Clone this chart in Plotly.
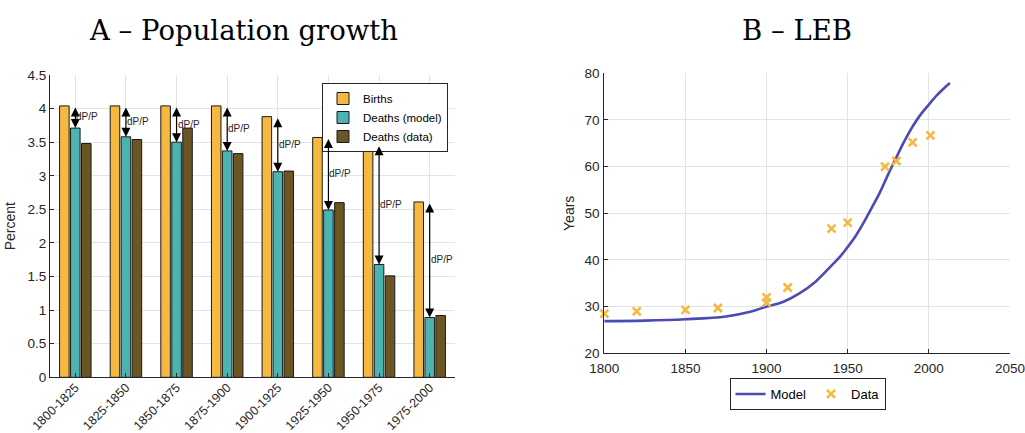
import plotly.graph_objects as go

# Panel A: birth and death rates per 25-year period (percent per year)
periods = ["1800-1825", "1825-1850", "1850-1875", "1875-1900",
           "1900-1925", "1925-1950", "1950-1975", "1975-2000"]
births = [4.04, 4.04, 4.04, 4.04, 3.88, 3.57, 3.46, 2.61]
deaths_model = [3.71, 3.58, 3.50, 3.37, 3.06, 2.49, 1.68, 0.89]
deaths_data = [3.48, 3.54, 3.71, 3.33, 3.07, 2.60, 1.51, 0.92]
pct_ticks = [0, 0.5, 1, 1.5, 2, 2.5, 3, 3.5, 4, 4.5]

# Panel B: life expectancy at birth (years)
model_years = [1800, 1825, 1850, 1875, 1890, 1900, 1910, 1920, 1930, 1940,
               1945, 1950, 1955, 1960, 1965, 1970, 1975, 1980, 1985, 1990,
               1995, 2000, 2005, 2010, 2013]
model_leb = [26.9, 27.0, 27.3, 27.9, 28.9, 30.0, 31.0, 32.8, 35.3, 38.8,
             40.6, 42.8, 45.2, 48.1, 51.3, 54.6, 58.4, 62.0, 65.5, 68.6,
             71.2, 73.3, 75.3, 77.0, 77.9]
data_years = [1800, 1820, 1850, 1870, 1900, 1900, 1913, 1940, 1950,
              1973, 1980, 1990, 2001]
data_leb = [28.5, 29.0, 29.3, 29.7, 32.0, 30.9, 34.1, 46.7, 48.0,
            60.0, 61.2, 65.2, 66.7]

C_BIRTH = "#F5B840"
C_DMODEL = "#4DB3B0"
C_DDATA = "#6B5623"
C_LINE = "#4B4BB4"
C_TEXT = "#262626"
C_GRID = "#E3E3E3"
EDGE = dict(color="#1a1a1a", width=1)
SANS = "Liberation Sans, Arial, sans-serif"
TICKFONT = dict(family=SANS, size=13.5, color=C_TEXT)

fig = go.Figure()

fig.add_trace(go.Bar(x=periods, y=births, name="Births", marker=dict(color=C_BIRTH, line=EDGE),
                     xaxis="x", yaxis="y", legend="legend"))
fig.add_trace(go.Bar(x=periods, y=deaths_model, name="Deaths (model)",
                     marker=dict(color=C_DMODEL, line=EDGE), xaxis="x", yaxis="y", legend="legend"))
fig.add_trace(go.Bar(x=periods, y=deaths_data, name="Deaths (data)",
                     marker=dict(color=C_DDATA, line=EDGE), xaxis="x", yaxis="y", legend="legend"))

fig.add_trace(go.Scatter(x=model_years, y=model_leb, mode="lines", name="Model",
                         line=dict(color=C_LINE, width=2.6, shape="spline", smoothing=1.0),
                         xaxis="x2", yaxis="y2", legend="legend2"))
fig.add_trace(go.Scatter(x=data_years, y=data_leb, mode="markers", name="Data",
                         marker=dict(symbol="x-thin", size=8, color=C_BIRTH,
                                     line=dict(color=C_BIRTH, width=2.6)),
                         cliponaxis=False, xaxis="x2", yaxis="y2", legend="legend2"))

annotations = []
# double-headed arrows between birth rate and modelled death rate
for p, b, d in zip(periods, births, deaths_model):
    annotations.append(dict(x=p, y=d, ax=p, ay=b, xref="x", yref="y", axref="x", ayref="y",
                            text="", showarrow=True, arrowside="end+start", arrowhead=2,
                            arrowsize=1.5, arrowwidth=1.2, arrowcolor="black",
                            standoff=0, startstandoff=0))
    annotations.append(dict(x=p, y=(b + d) / 2, xref="x", yref="y", text="dP/P",
                            showarrow=False, xanchor="left", xshift=-1,
                            font=dict(family=SANS, size=10, color=C_TEXT)))

TITLEFONT = dict(family="DejaVu Serif, serif", size=27.5, color="black")
annotations.append(dict(x=243 / 1025, y=1 - 30 / 433, xref="paper", yref="paper",
                        text="A \u2013 Population growth", showarrow=False,
                        xanchor="center", yanchor="middle", font=TITLEFONT))
annotations.append(dict(x=797 / 1025, y=1 - 30 / 433, xref="paper", yref="paper",
                        text="B \u2013 LEB", showarrow=False,
                        xanchor="center", yanchor="middle", font=TITLEFONT))

axis_common = dict(showgrid=True, gridcolor=C_GRID, gridwidth=1, showline=True,
                   linecolor=C_TEXT, linewidth=1, ticks="inside", ticklen=4,
                   tickcolor=C_TEXT, zeroline=False, mirror=False,
                   automargin=False, ticklabeloverflow="allow")

fig.update_layout(
    width=1025, height=433,
    margin=dict(l=0, r=0, t=0, b=0),
    paper_bgcolor="white", plot_bgcolor="white",
    barmode="group", bargap=0.35, bargroupgap=0.13,
    font=dict(family=SANS, color=C_TEXT),
    xaxis=dict(domain=[50 / 1025, 455 / 1025], anchor="y", range=[-0.5, 7.5],
               type="category", tickangle=-45, ticklabelstandoff=-3,
               tickfont=dict(family=SANS, size=12.5, color=C_TEXT),
               **axis_common),
    yaxis=dict(domain=[1 - 377.3 / 433, 1 - 75 / 433], anchor="x", range=[0, 4.5],
               tickvals=pct_ticks, ticktext=[f"{v:g}" for v in pct_ticks], tickfont=TICKFONT,
               title=dict(text="Percent", font=dict(size=14, color=C_TEXT), standoff=8),
               **axis_common),
    xaxis2=dict(domain=[604.3 / 1025, 1010 / 1025], anchor="y2", range=[1800, 2050],
                dtick=50, tickfont=TICKFONT, ticklabelstandoff=2, **axis_common),
    yaxis2=dict(domain=[1 - 353.3 / 433, 1 - 73.3 / 433], anchor="x2", range=[20, 80],
                dtick=10, tickfont=TICKFONT, ticklabelstandoff=1,
                title=dict(text="Years", font=dict(size=14, color=C_TEXT), standoff=6),
                **axis_common),
    legend=dict(x=448 / 1025, xanchor="right", y=1 - 83 / 433, yanchor="top",
                bgcolor="white", bordercolor="#262626", borderwidth=1,
                font=dict(size=11.5, color="black"), tracegroupgap=0, itemwidth=30),
    legend2=dict(x=807.5 / 1025, xanchor="center", y=1 - 378 / 433, yanchor="top",
                 orientation="h", bgcolor="white", bordercolor="#262626", borderwidth=1,
                 font=dict(size=13, color="black"), itemwidth=30),
    annotations=annotations,
    showlegend=True,
)

fig.write_html("out.html")
